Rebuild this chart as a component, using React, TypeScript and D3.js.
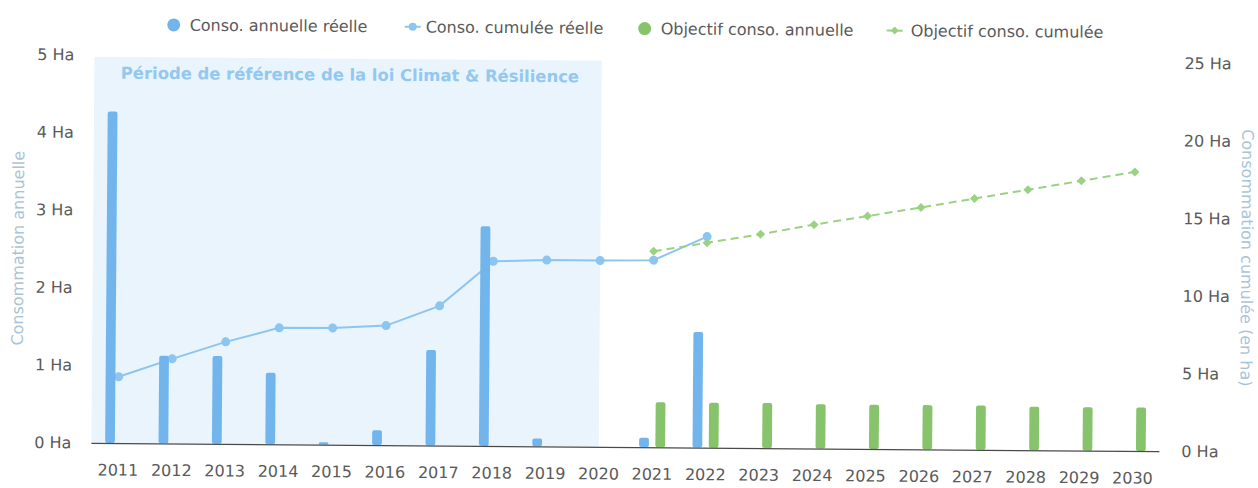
import React from 'react';
import * as d3 from 'd3';

const years = ['2011','2012','2013','2014','2015','2016','2017','2018','2019','2020','2021','2022','2023','2024','2025','2026','2027','2028','2029','2030'];
const annualReal: (number | null)[] = [4.27, 1.13, 1.13, 0.92, 0.03, 0.19, 1.23, 2.83, 0.10, 0, 0.12, 1.49, null, null, null, null, null, null, null, null];
const cumulReal: (number | null)[] = [4.27, 5.45, 6.57, 7.5, 7.52, 7.7, 9.0, 11.9, 12.0, 12.0, 12.05, 13.6, null, null, null, null, null, null, null, null];
const annualObj: (number | null)[] = [null, null, null, null, null, null, null, null, null, null, 0.58, 0.58, 0.58, 0.57, 0.57, 0.57, 0.57, 0.56, 0.56, 0.56];
const cumulObj: (number | null)[] = [null, null, null, null, null, null, null, null, null, null, 12.62, 13.2, 13.78, 14.42, 15.0, 15.58, 16.18, 16.78, 17.38, 17.98];

const leftTicks = [0, 1, 2, 3, 4, 5];
const rightTicks = [0, 5, 10, 15, 20, 25];
const seriesNames = ['Conso. annuelle réelle', 'Conso. cumulée réelle', 'Objectif conso. annuelle', 'Objectif conso. cumulée'];
const bandLabel = 'Période de référence de la loi Climat & Résilience';
const bandFrom = '2011';
const bandTo = '2020';
const leftTitle = 'Consommation annuelle';
const rightTitle = 'Consommation cumulée (en ha)';

const W = 1258, H = 488;
const L = 93, R = 1161, T = 59, B = 447;
const FONT = '"DejaVu Sans", Verdana, sans-serif';
const C_BAR_BLUE = '#72b5ed';
const C_LINE_BLUE = '#8dc5f1';
const C_BAR_GREEN = '#86c36a';
const C_LINE_GREEN = '#9ad283';
const C_BAND = '#e9f4fc';
const C_TEXT = '#5a5a5a';

export default function App() {
  const x = d3.scalePoint<string>().domain(years).range([L, R]).padding(0.5);
  const step = x.step();
  const xs = d3.scaleBand<string>().domain(['real', 'obj']).range([-13, 13]).paddingInner(0.4);
  const yL = d3.scaleLinear().domain([0, 5]).range([B, T]);
  const yR = d3.scaleLinear().domain([0, 25]).range([B, T]);

  const lineR = d3.line<[string, number | null]>()
    .defined(d => d[1] != null)
    .x(d => x(d[0]) as number)
    .y(d => yR(d[1] as number));

  const realPairs = years.map((y, i) => [y, cumulReal[i]] as [string, number | null]);
  const objPairs = years.map((y, i) => [y, cumulObj[i]] as [string, number | null]);

  const bandX0 = (x(bandFrom) as number) - step / 2;
  const bandX1 = x(bandTo) as number;

  const diamond = (cx: number, cy: number, r: number) => `M${cx - r},${cy}L${cx},${cy - r}L${cx + r},${cy}L${cx},${cy + r}Z`;

  const legendY = 28.5;

  return (
    <svg width={W} height={H} style={{ position: 'absolute', left: 0, top: 0, background: '#fff' }} fontFamily={FONT}>
      <rect x={0} y={0} width={W} height={H} fill="#fff" />
      <g transform="rotate(0.45 629 244)">
        {/* plot band */}
        <rect x={bandX0} y={T + 2} width={bandX1 - bandX0} height={B - T - 2} fill={C_BAND} />
        <text x={(bandX0 + bandX1) / 2 + 2} y={77} dy="0.35em" textAnchor="middle" fontSize={16.4} fontWeight="bold" fill="#93c8f0">{bandLabel}</text>

        {/* cumulative real line */}
        <path d={lineR(realPairs) || ''} fill="none" stroke={C_LINE_BLUE} strokeWidth={2} />
        {realPairs.filter(d => d[1] != null).map(d => (
          <circle key={'cr' + d[0]} cx={x(d[0]) as number} cy={yR(d[1] as number)} r={4.5} fill={C_LINE_BLUE} />
        ))}

        {/* cumulative objective line */}
        <path d={lineR(objPairs) || ''} fill="none" stroke={C_LINE_GREEN} strokeWidth={2} strokeDasharray="8,5" />
        {objPairs.filter(d => d[1] != null).map(d => (
          <path key={'co' + d[0]} d={diamond(x(d[0]) as number, yR(d[1] as number), 4.5)} fill={C_LINE_GREEN} />
        ))}

        {/* bars */}
        {years.map((yr, i) => annualReal[i] != null && (annualReal[i] as number) > 0 ? (
          <rect key={'br' + yr} x={(x(yr) as number) + (xs('real') as number)} width={xs.bandwidth()}
            y={yL(annualReal[i] as number)} height={B - yL(annualReal[i] as number)} fill={C_BAR_BLUE} rx={2} />
        ) : null)}
        {years.map((yr, i) => annualObj[i] != null ? (
          <rect key={'bo' + yr} x={(x(yr) as number) + (xs('obj') as number)} width={xs.bandwidth()}
            y={yL(annualObj[i] as number)} height={B - yL(annualObj[i] as number)} fill={C_BAR_GREEN} rx={2} />
        ) : null)}

        {/* x axis */}
        <line x1={L} x2={R} y1={B + 0.5} y2={B + 0.5} stroke="#4a4a4a" strokeWidth={1.2} />
        {years.map(yr => (
          <text key={'xt' + yr} x={x(yr) as number} y={474} dy="0.35em" textAnchor="middle" fontSize={16} fill={C_TEXT}>{yr}</text>
        ))}

        {/* left axis */}
        {leftTicks.map(t => (
          <text key={'lt' + t} x={73} y={yL(t)} dy="0.35em" textAnchor="end" fontSize={16} fill={C_TEXT}>{t} Ha</text>
        ))}
        <text transform={`translate(18,${(T + B) / 2}) rotate(-90)`} dy="0.35em" textAnchor="middle" fontSize={16} fill="#a9c4d8">{leftTitle}</text>

        {/* right axis */}
        {rightTicks.map(t => (
          <text key={'rt' + t} x={1183} y={yR(t)} dy="0.35em" textAnchor="start" fontSize={16} fill={C_TEXT}>{t} Ha</text>
        ))}
        <text transform={`translate(1247,${(T + B) / 2}) rotate(90)`} dy="0.35em" textAnchor="middle" fontSize={16} fill="#a9c4d8">{rightTitle}</text>

        {/* legend */}
        <circle cx={172} cy={legendY} r={6.5} fill={C_BAR_BLUE} />
        <text x={188} y={legendY} dy="0.35em" fontSize={16} fill={C_TEXT}>{seriesNames[0]}</text>
        <line x1={403} x2={419} y1={legendY} y2={legendY} stroke={C_LINE_BLUE} strokeWidth={2} />
        <circle cx={411} cy={legendY} r={4} fill={C_LINE_BLUE} />
        <text x={424} y={legendY} dy="0.35em" fontSize={16} fill={C_TEXT}>{seriesNames[1]}</text>
        <circle cx={643} cy={legendY} r={6.5} fill={C_BAR_GREEN} />
        <text x={659} y={legendY} dy="0.35em" fontSize={16} fill={C_TEXT}>{seriesNames[2]}</text>
        <line x1={885} x2={901} y1={legendY} y2={legendY} stroke={C_LINE_GREEN} strokeWidth={2} />
        <path d={diamond(893, legendY, 4)} fill={C_LINE_GREEN} />
        <text x={909} y={legendY} dy="0.35em" fontSize={16} fill={C_TEXT}>{seriesNames[3]}</text>
      </g>
    </svg>
  );
}
